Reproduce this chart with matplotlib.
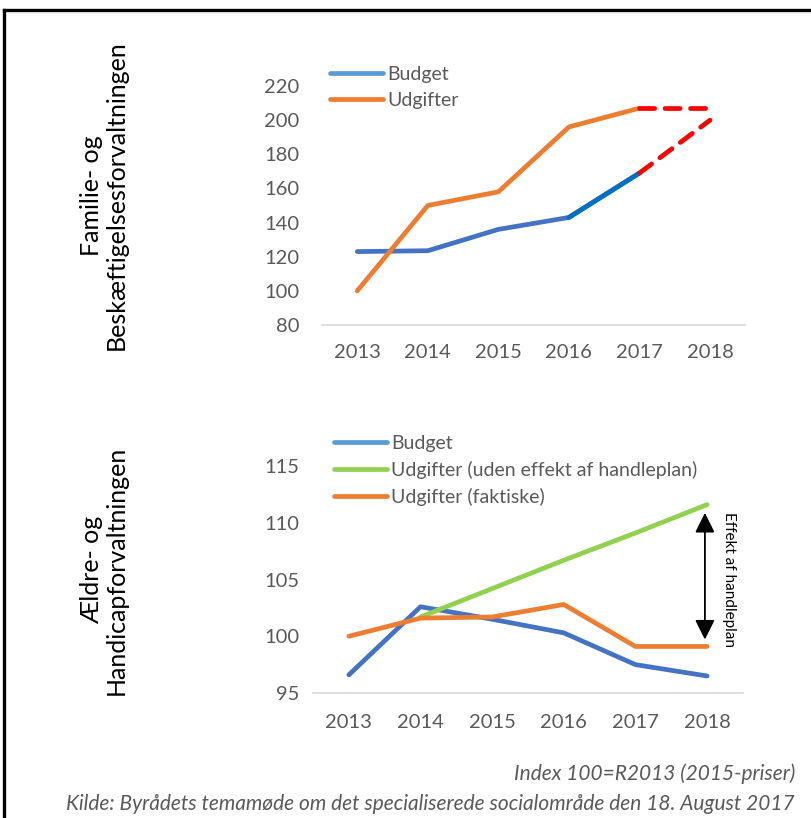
import matplotlib
matplotlib.use('Agg')
import matplotlib.pyplot as plt
from matplotlib.lines import Line2D
import numpy as np

plt.rcParams['font.family'] = ['Lato', 'DejaVu Sans']

years = ['2013', '2014', '2015', '2016', '2017', '2018']

# Familie- og Beskaeftigelsesforvaltningen (index)
fb_budget = [123, 123.5, 136, 143, 169, None]
fb_budget_prognose = [None, None, None, None, 169, 200]
fb_udgifter = [100, 150, 158, 196, 207, None]
fb_udgifter_prognose = [None, None, None, None, 207, 207]

# Aeldre- og Handicapforvaltningen (index)
ah_budget = [96.6, 102.6, 101.5, 100.3, 97.5, 96.5]
ah_uden_effekt = [None, 101.7, 104.2, 106.7, 109.1, 111.6]
ah_faktiske = [100, 101.6, 101.7, 102.8, 99.1, 99.1]

BLUE = '#4472C4'
BLUE_LEG = '#5B9BD5'
ORANGE = '#ED7D31'
GREEN = '#92D050'
RED = '#FF0000'
GREY = '#595959'
LW = 3.4


def arr(vals):
    return np.array([np.nan if v is None else v for v in vals], dtype=float)


def style_axes(ax, ylim, ticks, ypad, xpad):
    ax.set_xlim(-0.5, len(years) - 0.5)
    ax.set_ylim(*ylim)
    ax.set_yticks(ticks)
    ax.set_xticks(range(len(years)))
    ax.set_xticklabels(years)
    for s in ['top', 'right', 'left']:
        ax.spines[s].set_visible(False)
    ax.spines['bottom'].set_color('#D9D9D9')
    ax.spines['bottom'].set_linewidth(1.2)
    ax.tick_params(length=0, labelsize=14.5, colors=GREY)
    ax.tick_params(axis='y', pad=ypad)
    ax.tick_params(axis='x', pad=xpad)


def add_legend(ax, handles, labels, anchor):
    ax.legend(handles, labels, loc='upper left', bbox_to_anchor=anchor,
              frameon=False, fontsize=14, labelcolor=GREY, handlelength=2.75,
              handletextpad=0.2, labelspacing=0.45, borderaxespad=0)


fig = plt.figure(figsize=(8.11, 8.18), dpi=100)
x = np.arange(len(years))

# ---- top chart ----
ax1 = fig.add_axes([0.397, 0.6027, 0.522, 0.2922])
ax1.plot(x, arr(fb_budget), color=BLUE, lw=LW, solid_capstyle='round')
ax1.plot(x[3:5], arr(fb_budget)[3:5], color='#0070C0', lw=LW, solid_capstyle='round')
ax1.plot(x, arr(fb_budget_prognose), color=RED, lw=LW, dashes=(3.2, 2.2), dash_capstyle='round')
ax1.plot(x, arr(fb_udgifter), color=ORANGE, lw=LW, solid_capstyle='round')
ax1.plot(x, arr(fb_udgifter_prognose), color=RED, lw=LW, dashes=(3.2, 2.2), dash_capstyle='round')
style_axes(ax1, (80, 220), range(80, 221, 20), 16, 14)

h1 = [Line2D([], [], color=BLUE_LEG, lw=LW, solid_capstyle='round'),
      Line2D([], [], color=ORANGE, lw=LW, solid_capstyle='round')]
add_legend(ax1, h1, ['Budget', 'Udgifter'], (0.0, 1.115))

fig.text(0.128, 0.761, 'Familie- og\nBeskæftigelsesforvaltningen', rotation=90,
         ha='center', va='center', multialignment='center', fontsize=18,
         color='black', linespacing=1.1)

# ---- bottom chart ----
ax2 = fig.add_axes([0.386, 0.1528, 0.530, 0.2775])
ax2.plot(x, arr(ah_budget), color=BLUE, lw=LW, solid_capstyle='round')
ax2.plot(x, arr(ah_uden_effekt), color=GREEN, lw=LW, solid_capstyle='round')
ax2.plot(x, arr(ah_faktiske), color=ORANGE, lw=LW, solid_capstyle='round')
style_axes(ax2, (95, 115), range(95, 116, 5), 10, 15)

h2 = [Line2D([], [], color=BLUE_LEG, lw=LW, solid_capstyle='round'),
      Line2D([], [], color=GREEN, lw=LW, solid_capstyle='round'),
      Line2D([], [], color=ORANGE, lw=LW, solid_capstyle='round')]
add_legend(ax2, h2, ['Budget', 'Udgifter (uden effekt af handleplan)', 'Udgifter (faktiske)'],
           (0.03, 1.17))

last = len(years) - 1
ax2.annotate('', xy=(last - 0.03, ah_uden_effekt[-1]), xytext=(last - 0.03, ah_faktiske[-1]),
             arrowprops=dict(arrowstyle='<|-|>', color='black', lw=1.3,
                             mutation_scale=30, shrinkA=5, shrinkB=6))
ax2.annotate('Effekt af handleplan', xy=(last, (ah_uden_effekt[-1] + ah_faktiske[-1]) / 2),
             xytext=(16, -3), textcoords='offset points', rotation=270,
             ha='center', va='center', fontsize=11, color='black')

fig.text(0.128, 0.303, 'Ældre- og\nHandicapforvaltningen', rotation=90,
         ha='center', va='center', multialignment='center', fontsize=18,
         color='black', linespacing=1.1)

# ---- footnotes ----
fig.text(795 / 811, 1 - 774 / 818, 'Index 100=R2013 (2015-priser)', ha='right', va='center',
         style='italic', fontsize=15, color=GREY)
fig.text(795 / 811, 1 - 804 / 818,
         'Kilde: Byrådets temamøde om det specialiserede socialområde den 18. August 2017',
         ha='right', va='center', style='italic', fontsize=15, color=GREY)

# outer frame (top and left edge visible)
fig.add_artist(Line2D([4 / 811, 1], [1 - 10 / 818, 1 - 10 / 818], color='black', lw=2.4))
fig.add_artist(Line2D([4 / 811, 4 / 811], [0, 1 - 10 / 818], color='black', lw=2.4))

plt.savefig('out.png', dpi=100)
plt.close()
